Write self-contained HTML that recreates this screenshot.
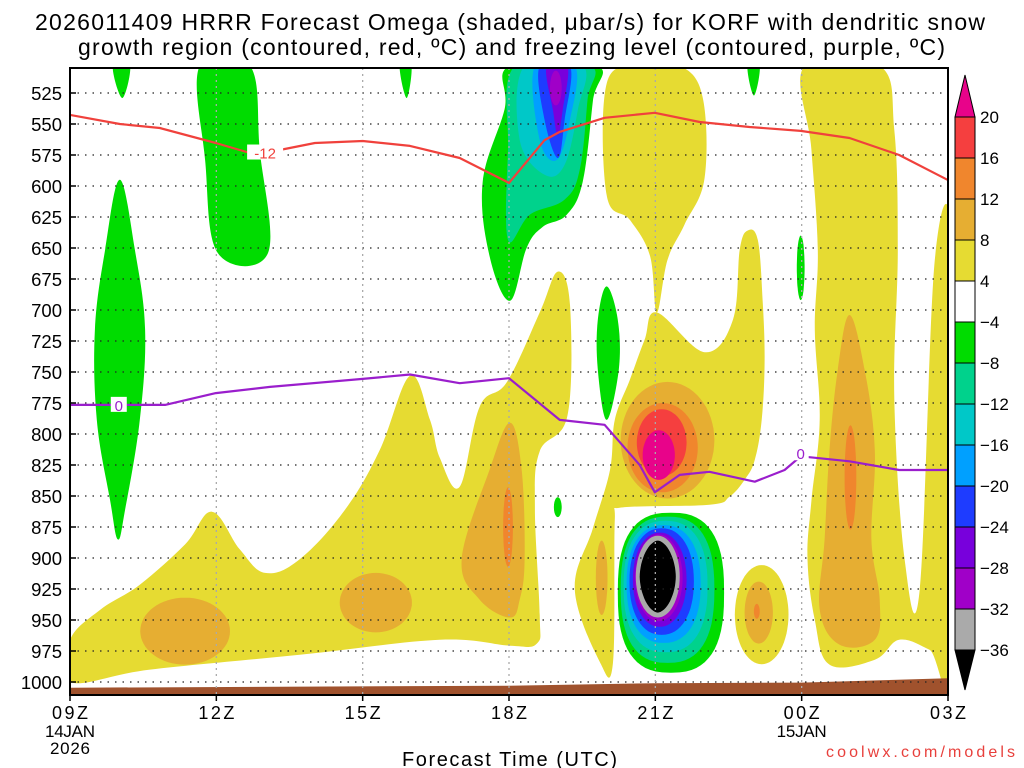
<!DOCTYPE html>
<html><head><meta charset="utf-8"><style>
html,body{margin:0;padding:0;background:#fff;}
svg{display:block;font-family:"Liberation Sans","DejaVu Sans",sans-serif;}
</style></head><body>
<svg id="chart" width="1024" height="768" viewBox="0 0 1024 768">
<text x="35" y="30" font-size="23" textLength="950" lengthAdjust="spacing">2026011409 HRRR Forecast Omega (shaded, μbar/s) for KORF with dendritic snow</text>
<text x="78" y="55" font-size="23" textLength="867" lengthAdjust="spacing">growth region (contoured, red, ºC) and freezing level (contoured, purple, ºC)</text>
<defs><clipPath id="plotclip"><rect x="70" y="68" width="878" height="627"/></clipPath></defs>
<g id="shades" clip-path="url(#plotclip)"></g>
<g id="grid"></g>
<g id="lines" clip-path="url(#plotclip)"></g>
<rect x="70" y="68" width="878" height="627" fill="none" stroke="#000" stroke-width="2"/>
<g id="axes"></g>
<g id="cbar"></g>
<text x="402" y="766" font-size="20" textLength="215" lengthAdjust="spacing">Forecast Time (UTC)</text>
<text x="826" y="757" font-size="16" fill="#e8403c" textLength="189" lengthAdjust="spacing">coolwx.com/models</text>
</svg>
<script>
const pressureTicks = [525,550,575,600,625,650,675,700,725,750,775,800,825,850,875,900,925,950,975,1000];
const timeTickHours = [0,3,6,9,12,15,18];
const timeTickLabels = ["09Z","12Z","15Z","18Z","21Z","00Z","03Z"];
const cbarLevels = [20,16,12,8,4,-4,-8,-12,-16,-20,-24,-28,-32,-36];
const levelColors = {"20":"#e8038a","16":"#f53f3f","12":"#f0862d","8":"#e6ae32","4":"#e6db32","-4":"#00dc00","-8":"#00d28c","-12":"#00c8c8","-16":"#00a0ff","-20":"#1e3cff","-24":"#7800dc","-28":"#a000c8","-32":"#aaaaaa","-36":"#000000"};
const cbarColors = ["#f53f3f","#f0862d","#e6ae32","#e6db32","#ffffff","#00dc00","#00d28c","#00c8c8","#00a0ff","#1e3cff","#7800dc","#a000c8","#aaaaaa"];

const yellowLeft = [[0,1000],[0,966],[0.61,942],[1.43,921.5],[2.36,889],[2.91,862.7],[3.48,893],[4.0,912],[4.71,901],[5.64,861],[6.35,813],[6.97,753],[7.38,788.6],[7.58,819],[7.99,842.6],[8.4,778],[8.96,758],[9.63,702],[10.0,669],[10.25,696],[10.2,785],[9.63,814],[9.53,860],[9.63,945.7],[9.57,969],[9.02,970.7],[7.58,966],[4.71,978],[1.64,990]];
const yellowTop = [[11.0,517.7],[11.68,503],[12.5,503],[12.97,528.2],[13.01,593.5],[12.6,631],[12.25,659.6],[12.03,702],[11.89,656.4],[11.48,627.4],[11.0,607]];
const yellowMid = [[12.03,702],[13.01,734],[13.59,708],[13.73,651.5],[13.89,636],[14.1,643.5],[14.2,692],[14.24,742],[14.18,788.6],[14.04,820.8],[13.83,837],[13.52,850.6],[13.11,857],[11.27,859.5],[11.17,869],[11.13,985],[10.86,983.6],[10.35,925.6],[10.72,876],[11.07,829],[11.17,788.6],[11.48,756],[11.78,724]];
const yellowRight = [[15.06,503],[16.6,503],[16.9,554.8],[16.97,651.5],[16.9,772],[17.11,901],[17.42,925.6],[17.73,659.6],[18.1,651.5],[18.1,986],[17.62,974],[17.0,966],[16.5,982],[15.57,986],[15.27,950],[15.12,901],[15.2,854],[15.37,788.6],[15.27,716],[15.33,651.5],[15.2,570.6]];
const gold18Z = [[9.02,791],[9.26,829],[9.32,901],[9.22,933.6],[9.02,948],[8.4,933.6],[8.03,901],[8.6,829]];
const goldRight = [[15.98,704],[16.29,748],[16.5,813],[16.43,885],[16.6,933.6],[16.5,966],[15.78,970],[15.37,941.7],[15.47,885],[15.57,813],[15.74,748]];
const greenLeft = [[1.02,595],[1.33,651.5],[1.54,716],[1.43,788.6],[1.13,861],[0.98,885],[0.82,853],[0.55,788.6],[0.51,716],[0.72,651.5]];
const green12Z = [[2.66,503],[3.69,503],[3.89,571],[4.06,654],[3.03,654],[2.77,579]];
const greenTip1 = [[0.88,503],[1.23,503],[1.07,529]];
const greenTip2 = [[6.76,503],[7.0,503],[6.9,529]];
const greenTip3 = [[13.89,503],[14.14,503],[14.02,527]];
const green18Z = [[9.02,503],[8.91,538],[8.46,596.7],[8.6,656.4],[9.02,692.6],[9.36,650],[9.69,633],[10.18,623.3],[10.51,596.7],[10.72,531.4],[10.8,503]];
const teal18Z = [[9.12,503],[8.98,571],[8.98,643.5],[9.43,623],[10.14,611],[10.45,587],[10.61,530.6],[10.66,503]];
const cyan18Z = [[9.32,503],[9.22,562.9],[9.73,591],[10.14,583],[10.41,538.7],[10.51,503]];
const lblue18Z = [[9.53,503],[9.63,562.9],[9.98,579],[10.25,546.8],[10.35,503]];
const blue18Z = [[9.63,503],[9.73,546.8],[10.0,577.4],[10.14,546.8],[10.25,503]];
const purple18Z = [[9.77,503],[9.9,538.7],[10.0,558.9],[10.1,538.7],[10.2,503]];
const green19Z = [[11.0,681],[11.23,708],[11.25,748],[11.0,788.6],[10.82,748],[10.82,708]];
const polyShapes = [
  [4,yellowLeft],[4,yellowTop],[4,yellowMid],[4,yellowRight],
  [8,gold18Z],[8,goldRight],
  [-4,greenLeft],[-4,green12Z],[-4,greenTip1],[-4,greenTip2],[-4,greenTip3],[-4,green18Z],[-4,green19Z],
  [-8,teal18Z],[-12,cyan18Z],[-16,lblue18Z],[-20,blue18Z],[-24,purple18Z]
];
const blobLevels = [4,8,8,8,8,8,12,12,12,12,16,20,-28,-4,-4,-4,-8,-12,-16,-20,-24,-28,-32,-36];
const blobHour   = [14.18,2.36,6.27,10.9,12.25,14.12,8.98,12.15,16.0,14.08,12.13,12.07,9.96,10.0,14.98,12.32,12.25,12.21,12.17,12.13,12.09,12.07,12.05,12.05];
const blobHPa    = [945.7,959,936,916,805,944,875,811,835,943,807,817,521,859,666,928,925.6,923,921,919,917.5,916,915,915];
const blobHalfW  = [0.55,0.92,0.74,0.12,0.96,0.29,0.1,0.72,0.12,0.06,0.51,0.33,0.12,0.08,0.08,1.09,0.96,0.86,0.76,0.66,0.55,0.49,0.45,0.37];
const blobHalfH  = [40,27,24,30,47,25,32,36,42,6,27,20,14,8,26,64.5,59,53,47.5,43,38,35,33,29];
const blobExp    = [2,2,2,2,2,2,2,2,2,2,2,2,2,2,2,2.6,2.5,2.4,2.3,2.2,2.1,2,2,1.8];

const groundHour = [0,9,12,15,18];
const groundHPa = [1004.6,1003,1001,1000.5,997];

const redHours = [0,1.02,1.84,2.99,3.69,4.3,5.02,6.0,6.97,7.99,9.0,9.73,10.04,10.96,11.99,12.91,13.93,14.98,15.98,17.0,17.99];
const redHPa = [542.7,550,553.2,565.3,573.4,571,565.3,563.7,567.7,577.4,597.5,563,556.4,545,541,548.4,552.4,555.6,561.3,575,595];
const frzHours = [0,1.02,1.95,2.99,4.1,6.0,6.97,7.99,9.0,10.04,10.96,11.68,11.99,12.5,13.11,14.04,14.65,14.98,15.98,17.0,17.99];
const frzHPa = [776.5,776.5,776.5,767,762,755.6,752,759,755,788.6,792.6,825,847,833,830.5,838.5,829,818,822,829,829];

const NS = "http://www.w3.org/2000/svg";
function xS(h){ return 70 + h*878/18; }
function yS(p){ return 93 + (p-525)*1.24; }
function mk(tag, attrs, parent){ const e=document.createElementNS(NS,tag); for(const k in attrs) e.setAttribute(k,attrs[k]); parent.appendChild(e); return e; }
function smoothClosed(pts){
  const P = pts.map(q=>[xS(q[0]),yS(q[1])]); const n=P.length;
  let d = "M"+P[0][0].toFixed(1)+","+P[0][1].toFixed(1);
  for(let i=0;i<n;i++){
    const p0=P[(i-1+n)%n],p1=P[i],p2=P[(i+1)%n],p3=P[(i+2)%n]; const t=0.18;
    const c1=[p1[0]+(p2[0]-p0[0])*t,p1[1]+(p2[1]-p0[1])*t];
    const c2=[p2[0]-(p3[0]-p1[0])*t,p2[1]-(p3[1]-p1[1])*t];
    d+=" C"+c1[0].toFixed(1)+","+c1[1].toFixed(1)+" "+c2[0].toFixed(1)+","+c2[1].toFixed(1)+" "+p2[0].toFixed(1)+","+p2[1].toFixed(1);
  }
  return d+"Z";
}
const shadesG = document.getElementById("shades");
const layerOrder = [4,8,12,16,20,-4,-8,-12,-16,-20,-24,-28,-32,-36];
layerOrder.forEach(lv=>{
  polyShapes.forEach(s=>{ if(s[0]!==lv) return;
    const e = mk("path",{d:smoothClosed(s[1]),fill:levelColors[String(lv)]},shadesG);
    
    
  });
  blobLevels.forEach((bl,i)=>{ if(bl!==lv) return;
    const cx=xS(blobHour[i]), cy=yS(blobHPa[i]);
    const rx=xS(blobHour[i]+blobHalfW[i])-cx, ry=yS(blobHPa[i]+blobHalfH[i])-cy; const n=blobExp[i];
    let d="";
    for(let k=0;k<=64;k++){ const a=k/64*2*Math.PI; const c=Math.cos(a), s=Math.sin(a);
      const x=cx+rx*Math.sign(c)*Math.pow(Math.abs(c),2/n), y=cy+ry*Math.sign(s)*Math.pow(Math.abs(s),2/n);
      d+=(k?"L":"M")+x.toFixed(1)+","+y.toFixed(1); }
    const e = mk("path",{d:d+"Z",fill:levelColors[String(lv)]},shadesG);
    
    
  });
});
let gd="M"+xS(0)+",700";
groundHour.forEach((h,i)=>{ gd+=" L"+xS(h).toFixed(1)+","+yS(groundHPa[i]).toFixed(1); });
gd+=" L"+xS(18.2)+","+yS(groundHPa[groundHPa.length-1])+" L"+xS(18.2)+",700Z";
const groundEl = mk("path",{d:gd,fill:"#a0522d"},shadesG);



const gridG=document.getElementById("grid");
pressureTicks.forEach(p=>{
  const l=mk("line",{x1:70,x2:948,y1:yS(p),y2:yS(p),stroke:"#222","stroke-width":1.3,"stroke-dasharray":"1.5 6"},gridG);
  
  
});
timeTickHours.forEach((h,i)=>{ if(i===0||i===timeTickHours.length-1) return;
  const l=mk("line",{x1:xS(h),x2:xS(h),y1:68,y2:695,stroke:"#aaa","stroke-width":1.3,"stroke-dasharray":"2 4"},gridG);
  
  
});

const linesG=document.getElementById("lines");
function polyline(hs,ps,color,name){
  const pts=hs.map((h,i)=>xS(h).toFixed(1)+","+yS(ps[i]).toFixed(1)).join(" ");
  const e=mk("polyline",{points:pts,fill:"none",stroke:color,"stroke-width":2.2,"stroke-linejoin":"round"},linesG);
  
  
}
polyline(redHours,redHPa,"#f0413c","dendritic-minus12-line");
polyline(frzHours,frzHPa,"#9a1ecc","freezing-level-line");
function clabel(h,p,txt,color,name){
  const x=xS(h), y=yS(p);
  const r=mk("rect",{x:x-(txt.length*5+3),y:y-8,width:txt.length*10+6,height:15,fill:"#fff"},linesG);
  
  
  const t=mk("text",{x:x,y:y+6,"font-size":15,fill:color,"text-anchor":"middle"},linesG);
  t.textContent=txt;
  
  
}
clabel(4.0,573,"-12","#f0413c","red-contour-label");
clabel(1.0,776.5,"0","#9a1ecc","freezing-contour-label");
clabel(14.98,815.5,"0","#9a1ecc","freezing-contour-label-2");

const axesG=document.getElementById("axes");
pressureTicks.forEach(p=>{
  const t=mk("text",{x:62,y:yS(p)+7,"font-size":18.5,"text-anchor":"end"},axesG);
  t.textContent=String(p);
  
  
  const tk=mk("line",{x1:70,x2:76,y1:yS(p),y2:yS(p),stroke:"#000","stroke-width":1.5},axesG);
  
  
});
timeTickHours.forEach((h,i)=>{
  const t=mk("text",{x:xS(h)-18,y:719,"font-size":18,textLength:36,lengthAdjust:"spacing"},axesG);
  t.textContent=timeTickLabels[i];
  
  
  const tk=mk("line",{x1:xS(h),x2:xS(h),y1:695,y2:701,stroke:"#000","stroke-width":1.5},axesG);
  
  
});
[["14JAN",xS(0),737,50],["2026",xS(0),754,40],["15JAN",xS(15),737,50]].forEach(d=>{
  const t=mk("text",{x:d[1]-d[3]/2,y:d[2],"font-size":17,textLength:d[3],lengthAdjust:"spacing"},axesG);
  t.textContent=d[0];
  
  
});

const cbarG=document.getElementById("cbar");
function cbY(i){ return 117 + i*41; }
const cbTop=mk("polygon",{points:"955,117 975,117 965,75",fill:levelColors["20"],stroke:"#000","stroke-width":1},cbarG);


cbarColors.forEach((c,i)=>{
  const r=mk("rect",{x:955,y:cbY(i),width:20,height:41,fill:c,stroke:"#000","stroke-width":1},cbarG);
  
  
});
const cbBot=mk("polygon",{points:"955,650 975,650 965,690",fill:"#000",stroke:"#000","stroke-width":1},cbarG);


cbarLevels.forEach((v,i)=>{
  const t=mk("text",{x:980,y:cbY(i)+6,"font-size":17},cbarG);
  t.textContent=(v<0?"\u2212":"")+Math.abs(v);
  
  
});
</script>
</body></html>
